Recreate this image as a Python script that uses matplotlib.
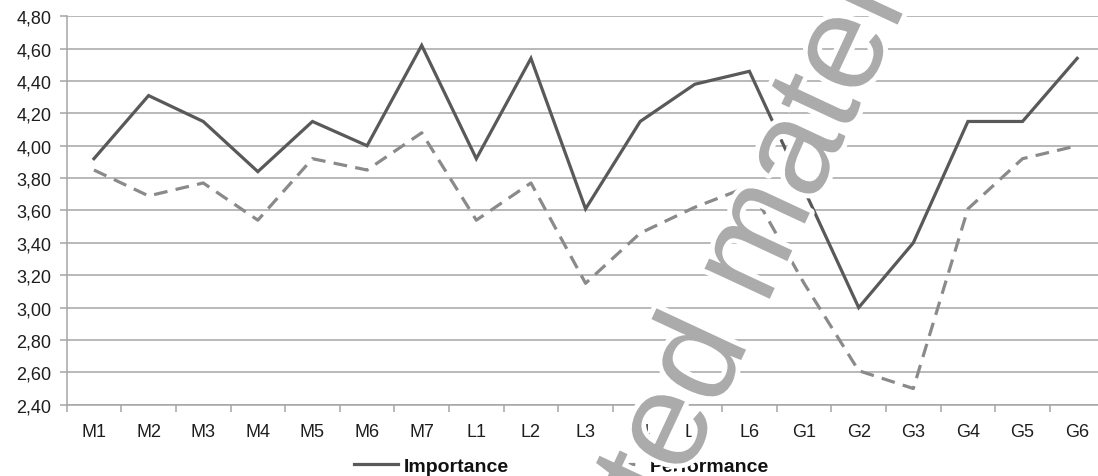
import numpy as np
import matplotlib
matplotlib.use("Agg")
import matplotlib.pyplot as plt
import matplotlib.patheffects as pe
from matplotlib.ticker import FixedLocator, FuncFormatter

plt.rcParams['font.family'] = ['Liberation Sans', 'DejaVu Sans']

# Criteria and mean scores
criteria = ['M1', 'M2', 'M3', 'M4', 'M5', 'M6', 'M7',
            'L1', 'L2', 'L3', 'L4', 'L5', 'L6',
            'G1', 'G2', 'G3', 'G4', 'G5', 'G6']
importance = [3.92, 4.31, 4.15, 3.84, 4.15, 4.00, 4.62,
              3.92, 4.54, 3.61, 4.15, 4.38, 4.46,
              3.73, 3.00, 3.40, 4.15, 4.15, 4.54]
performance = [3.85, 3.69, 3.77, 3.54, 3.92, 3.85, 4.08,
               3.54, 3.77, 3.15, 3.46, 3.62, 3.75,
               3.15, 2.61, 2.50, 3.61, 3.92, 4.00]

grid_col = '#a6a6a6'
text_col = '#1e1e1e'

fig = plt.figure(figsize=(10.98, 4.77), dpi=100)
# axis runs slightly past the right edge of the figure
ax = fig.add_axes([0.0607, 0.1495, 0.9452, 0.8143])

x = np.arange(len(criteria))
ax.plot(x, importance, color='#595959', lw=2.3, solid_joinstyle='miter',
        label='Importance', zorder=3)
perf_line, = ax.plot(x, performance, color='#8a8a8a', lw=2.3,
                     label='Performance', zorder=3)
perf_line.set_dashes([4.3, 2.6])

ax.set_xlim(-0.5, len(criteria) - 0.5)
ax.set_ylim(2.40, 4.80)

yticks = np.round(np.arange(2.40, 4.81, 0.20), 2)
ax.set_yticks(yticks)
ax.yaxis.set_major_formatter(FuncFormatter(lambda v, p: f'{v:.2f}'.replace('.', ',')))
ax.grid(axis='y', color=grid_col, lw=1.1, zorder=1)

ax.set_xticks(x)
ax.set_xticklabels(criteria)
ax.xaxis.set_minor_locator(FixedLocator(np.arange(-0.5, len(criteria), 1.0)))
ax.tick_params(axis='x', which='major', length=0, pad=13.5, labelsize=13,
               labelcolor=text_col)
ax.tick_params(axis='x', which='minor', length=5, width=1.1, color=grid_col)
ax.tick_params(axis='y', length=5, width=1.1, color=grid_col, pad=6,
               labelsize=13, labelcolor=text_col)

for side in ['top', 'right']:
    ax.spines[side].set_visible(False)
for side in ['left', 'bottom']:
    ax.spines[side].set_color(grid_col)
    ax.spines[side].set_linewidth(1.1)

leg = fig.legend(loc='center', bbox_to_anchor=(0.511, 0.02), ncol=2,
                 frameon=False, handlelength=2.3, handletextpad=0.3,
                 columnspacing=4.6, prop={'weight': 'bold', 'size': 14})
for t in leg.get_texts():
    t.set_color('#111111')

# watermark
fig.text(0.642, 0.080, 'Copyrighted material', fontsize=98, color='#ababab',
         rotation=65, rotation_mode='anchor', ha='center', va='baseline',
         zorder=10,
         path_effects=[pe.withStroke(linewidth=7, foreground='white')])

fig.savefig('out.png', dpi=100)
